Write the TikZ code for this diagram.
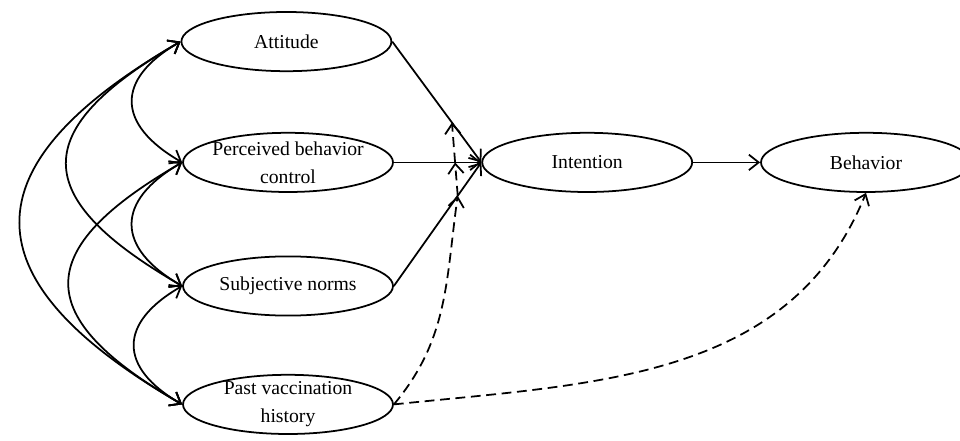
\documentclass[tikz,border=0pt]{standalone}
\usepackage{fontspec}
\setmainfont{Liberation Serif}
\usetikzlibrary{shapes.geometric,arrows.meta}

\begin{document}
\begin{tikzpicture}[
  >={Straight Barb[length=7pt,width=11pt]},
  line width=1.25pt,
  var/.style={draw, ellipse, minimum width=5.25cm, minimum height=1.48cm, inner sep=0pt},
  txt/.style={align=center, font=\fontsize{14}{20}\selectfont},
  cov/.style={<->, looseness=#1},
  mod/.style={->, dash pattern=on 7pt off 4pt}]
  \useasboundingbox (0,0) rectangle (24,11);
  % constructs
  \node[var, label={[txt]center:Attitude}] (att) at (7.16,9.96) {};
  \node[var, label={[txt]center:{Perceived behavior\\control}}] (pbc) at (7.2,6.94) {};
  \node[var, label={[txt]center:Subjective norms}] (sn) at (7.2,3.85) {};
  \node[var, label={[txt]center:{Past vaccination\\history}}] (pvh) at (7.2,0.89) {};
  \node[var, label={[txt]center:Intention}] (int) at (14.68,6.94) {};
  \node[var, label={[txt]center:Behavior}] (beh) at (21.65,6.94) {};
  % paths
  \draw[->] (att.east) -- coordinate[pos=0.67] (m1) (int.west);
  \draw[->] (pbc.east) -- coordinate[pos=0.7] (m2) (int.west);
  \draw[->] (sn.east) -- coordinate[pos=0.73] (m3) (int.west);
  \draw[->] (int.east) -- (beh.west);
  % correlations
  \draw[cov=1.6] (att.west) to[out=-150, in=150] (pbc.west);
  \draw[cov=1.6] (pbc.west) to[out=-150, in=150] (sn.west);
  \draw[cov=1.6] (sn.west) to[out=-150, in=150] (pvh.west);
  \draw[cov=1.85] (att.west) to[out=-150, in=150] (sn.west);
  \draw[cov=1.85] (pbc.west) to[out=-150, in=150] (pvh.west);
  \draw[cov=1.75] (att.west) to[out=-150, in=150] (pvh.west);
  % past vaccination effects
  \draw[mod] (pvh.east) to[out=50, in=-98] (m3);
  \draw[mod] (m3) -- (m2);
  \draw[mod] (m2) -- (m1);
  \draw[mod] (pvh.east) to[out=6, in=-112] (beh.south);
\end{tikzpicture}
\end{document}
